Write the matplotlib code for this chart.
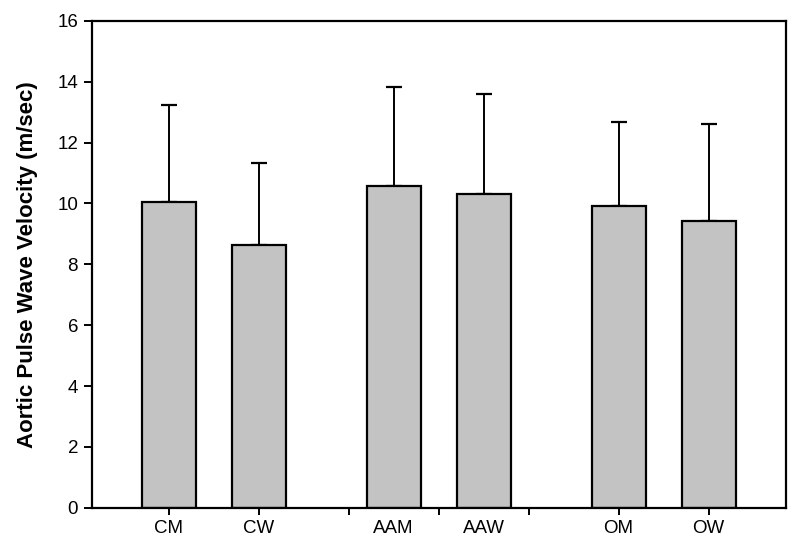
import matplotlib
matplotlib.use("Agg")
import matplotlib.pyplot as plt
import numpy as np

# ── Data ─────────────────────────────────────────────────────────────────────

groups = ["CM", "CW", "AAM", "AAW", "OM", "OW"]
positions = [0, 1, 2.5, 3.5, 5, 6]
means = [10.05, 8.65, 10.57, 10.32, 9.90, 9.41]
errors = [3.20, 2.68, 3.26, 3.29, 2.77, 3.21]
yticks = [0, 2, 4, 6, 8, 10, 12, 14, 16]

# ── Style ────────────────────────────────────────────────────────────────────

plt.rcParams["font.family"] = ["Liberation Sans", "DejaVu Sans"]

fig = plt.figure(figsize=(8, 5.49), dpi=100)
ax = fig.add_axes([0.115, 0.0752, 0.867, 0.8868])

ax.bar(positions, means, width=0.6, color="#c3c3c3", edgecolor="black",
       linewidth=1.6, zorder=2)
ax.errorbar(positions, means, yerr=[np.zeros(len(errors)), errors],
            fmt="none", ecolor="black", elinewidth=1.4, capsize=5.5,
            capthick=1.6, zorder=1)

ax.set_xlim(-0.852, 6.856)
ax.set_ylim(0, 16)
ax.set_yticks(yticks)
ax.set_yticklabels([str(t) for t in yticks], fontsize=13.5)

# tick marks at integer slots, labels under the bars
ax.xaxis.remove_overlapping_locs = False
ax.set_xticks(range(7))
ax.set_xticklabels([""] * 7)
ax.set_xticks(positions, minor=True)
ax.set_xticklabels(groups, minor=True, fontsize=13.5)
ax.tick_params(axis="x", which="major", direction="out", length=5, width=1.4)
ax.tick_params(axis="x", which="minor", length=0, pad=9)
ax.tick_params(axis="y", direction="out", length=6, width=1.4, pad=4)

for spine in ax.spines.values():
    spine.set_linewidth(1.6)

ax.set_ylabel("Aortic Pulse Wave Velocity (m/sec)", fontsize=16,
              fontweight="bold", fontstretch="normal", labelpad=14)

fig.savefig("out.png", dpi=100)
